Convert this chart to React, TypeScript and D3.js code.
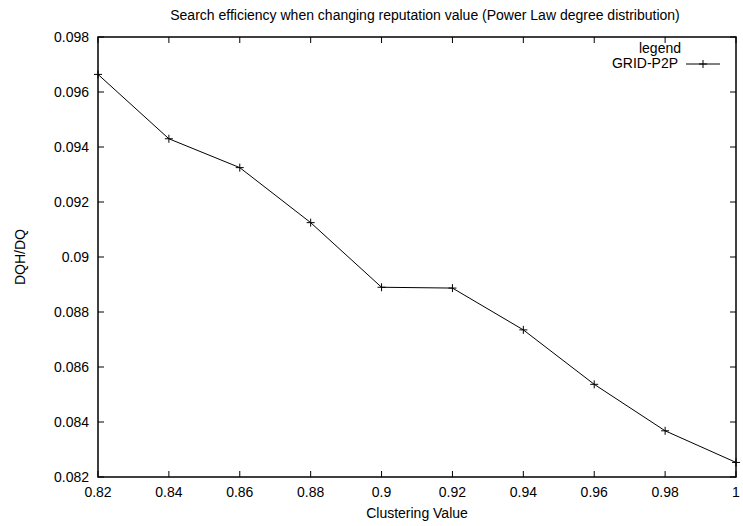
import React from "react";
import * as d3 from "d3";

const xValues = [0.82, 0.84, 0.86, 0.88, 0.9, 0.92, 0.94, 0.96, 0.98, 1.0];
const yValues = [0.09664, 0.0943, 0.09325, 0.09125, 0.0889, 0.08887, 0.08735, 0.08537, 0.08368, 0.08253];
const xTicks = [0.82, 0.84, 0.86, 0.88, 0.9, 0.92, 0.94, 0.96, 0.98, 1.0];
const yTicks = [0.082, 0.084, 0.086, 0.088, 0.09, 0.092, 0.094, 0.096, 0.098];
const seriesName = "GRID-P2P";
const title = "Search efficiency when changing reputation value (Power Law degree distribution)";
const xLabel = "Clustering Value";
const yLabel = "DQH/DQ";

const W = 743;
const H = 526;
const M = { left: 98, right: 736, top: 37, bottom: 477 };
const FONT = "'Liberation Sans', Arial, sans-serif";

export default function App() {
  const x = d3.scaleLinear().domain([0.82, 1.0]).range([M.left, M.right]);
  const y = d3.scaleLinear().domain([0.082, 0.098]).range([M.bottom, M.top]);
  const line = d3
    .line<number>()
    .x((_, i) => x(xValues[i]))
    .y((d) => y(d));
  const tick = 6;
  const fmt = (v: number) => String(+v.toFixed(4));
  const mk = 4;
  const plus = (cx: number, cy: number, k: string) => (
    <path key={k} d={`M${cx - mk},${cy}H${cx + mk}M${cx},${cy - mk}V${cy + mk}`} stroke="#000" strokeWidth={1} />
  );
  return (
    <svg width={W} height={H} style={{ position: "absolute", left: 0, top: 0 }} fontFamily={FONT}>
      <rect width={W} height={H} fill="#fff" />
      <text x={425} y={15} textAnchor="middle" dominantBaseline="central" fontSize={14}>
        {title}
      </text>
      {xTicks.map((t) => (
        <g key={"x" + t}>
          <line x1={x(t)} x2={x(t)} y1={M.bottom} y2={M.bottom - tick} stroke="#000" />
          <line x1={x(t)} x2={x(t)} y1={M.top} y2={M.top + tick} stroke="#000" />
          <text x={x(t)} y={492} textAnchor="middle" dominantBaseline="central" fontSize={14}>
            {fmt(t)}
          </text>
        </g>
      ))}
      {yTicks.map((t) => (
        <g key={"y" + t}>
          <line x1={M.left} x2={M.left + tick} y1={y(t)} y2={y(t)} stroke="#000" />
          <line x1={M.right} x2={M.right - tick} y1={y(t)} y2={y(t)} stroke="#000" />
          <text x={89} y={y(t)} textAnchor="end" dominantBaseline="central" fontSize={14}>
            {fmt(t)}
          </text>
        </g>
      ))}
      <rect x={M.left} y={M.top} width={M.right - M.left} height={M.bottom - M.top} fill="none" stroke="#000" strokeWidth={1.5} />
      <text x={(M.left + M.right) / 2} y={513} textAnchor="middle" dominantBaseline="central" fontSize={14}>
        {xLabel}
      </text>
      <text
        transform={`translate(20,${(M.top + M.bottom) / 2}) rotate(-90)`}
        textAnchor="middle"
        dominantBaseline="central"
        fontSize={14}
      >
        {yLabel}
      </text>
      <path d={line(yValues) || ""} fill="none" stroke="#000" strokeWidth={1} />
      {yValues.map((v, i) => plus(x(xValues[i]), y(v), "p" + i))}
      <text x={660} y={48} textAnchor="middle" dominantBaseline="central" fontSize={14}>
        legend
      </text>
      <text x={678} y={63} textAnchor="end" dominantBaseline="central" fontSize={14}>
        {seriesName}
      </text>
      <line x1={686} x2={720} y1={64} y2={64} stroke="#000" />
      {plus(703, 64, "leg")}
    </svg>
  );
}
